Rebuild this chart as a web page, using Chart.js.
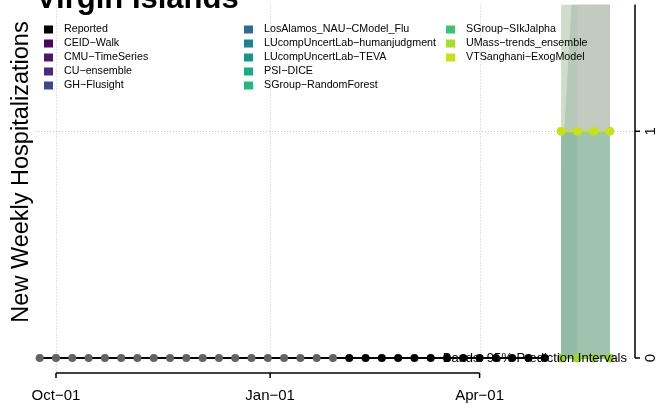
<!DOCTYPE html>
<html lang="en">
<head>
  <meta charset="UTF-8">
  <title>Virgin Islands</title>
  <script src="https://cdn.jsdelivr.net/npm/chart.js"></script>
  <style>
    html, body { margin: 0; padding: 0; background: #fff; }
    #wrap { width: 658px; height: 409px; }
  </style>
</head>
<body>
  <div id="wrap"><canvas id="chart" width="658" height="409"></canvas></div>
  <script>
    // reported weekly hospitalizations
    const reportedDates = [
      '2022-09-24', '2022-10-01', '2022-10-08', '2022-10-15', '2022-10-22', '2022-10-29',
      '2022-11-05', '2022-11-12', '2022-11-19', '2022-11-26', '2022-12-03', '2022-12-10',
      '2022-12-17', '2022-12-24', '2022-12-31', '2023-01-07', '2023-01-14', '2023-01-21',
      '2023-01-28', '2023-02-04', '2023-02-11', '2023-02-18', '2023-02-25', '2023-03-04',
      '2023-03-11', '2023-03-18', '2023-03-25', '2023-04-01', '2023-04-08', '2023-04-15',
      '2023-04-22', '2023-04-29'
    ];
    const reportedValues = [0, 0, 0, 0, 0, 0, 0, 0, 0, 0, 0, 0, 0, 0, 0, 0, 0, 0, 0,
                            0, 0, 0, 0, 0, 0, 0, 0, 0, 0, 0, 0, 0];
    const greyCount = 19; // earlier points shown in grey

    // forecasts
    const forecastDates = ['2023-05-06', '2023-05-13', '2023-05-20', '2023-05-27'];
    const umassMedian = [0, 0, 0, 0];
    const vtsMedian = [1, 1, 1, 1];

    // 95% prediction interval bands (upper ends run past the top of the plot)
    const bandWideLower = [0, 0, 0, 0];
    const bandWideUpper = [4, 4, 4, 4];
    const bandRiseLower = [0, 0, 0, 0];
    const bandRiseUpper = [0.76, 2.0, 4, 4];
    const bandLateLower = [null, 0, 0, 0];
    const bandLateUpper = [null, 4, 4, 4];
    const bandLowLower = [0, 0, 0, 0];
    const bandLowUpper = [1, 1, 1, 1];
    const bandLowLateLower = [null, 0, 0, 0];
    const bandLowLateUpper = [null, 1, 1, 1];

    const xTickDates = ['2022-10-01', '2023-01-01', '2023-04-01'];
    const xTickLabels = ['Oct\u221201', 'Jan\u221201', 'Apr\u221201'];
    const yTicks = [0, 1];

    const legendNames = [
      'Reported', 'CEID\u2212Walk', 'CMU\u2212TimeSeries', 'CU\u2212ensemble', 'GH\u2212Flusight',
      'LosAlamos_NAU\u2212CModel_Flu', 'LUcompUncertLab\u2212humanjudgment', 'LUcompUncertLab\u2212TEVA',
      'PSI\u2212DICE', 'SGroup\u2212RandomForest', 'SGroup\u2212SIkJalpha', 'UMass\u2212trends_ensemble',
      'VTSanghani\u2212ExogModel'
    ];
    const legendColors = [
      '#000000', '#46085c', '#481a6c', '#472c7a', '#3e4989',
      '#2f6c8e', '#277e8e', '#21908d', '#22a785', '#2eb37c',
      '#43bf71', '#a8db34', '#c8e020'
    ];

    const FONT = '"Liberation Sans", Arial, Helvetica, sans-serif';
    const day0 = Date.parse('2022-10-01');
    const dayOf = s => (Date.parse(s) - day0) / 86400000;
    const pts = (dates, vals) => dates.map((d, i) => ({ x: dayOf(d), y: vals[i] }));

    // higher order is drawn first
    function band(lower, upper, color, order) {
      return [
        { data: pts(forecastDates, lower), borderWidth: 0, pointRadius: 0, fill: false, order: order, spanGaps: false },
        { data: pts(forecastDates, upper), borderWidth: 0, pointRadius: 0, fill: '-1',
          backgroundColor: color, order: order, spanGaps: false }
      ];
    }

    const rAxes = {
      id: 'rAxes',
      beforeDatasetsDraw(chart) {
        const { ctx, chartArea: a, scales: { x, y } } = chart;
        ctx.save();
        ctx.strokeStyle = '#c8c8c8';
        ctx.lineWidth = 1;
        ctx.setLineDash([1, 2]);
        xTickDates.forEach(d => {
          const px = Math.round(x.getPixelForValue(dayOf(d))) + 0.5;
          ctx.beginPath(); ctx.moveTo(px, a.top); ctx.lineTo(px, a.bottom); ctx.stroke();
        });
        yTicks.forEach(v => {
          const py = Math.round(y.getPixelForValue(v)) + 0.5;
          ctx.beginPath(); ctx.moveTo(a.left, py); ctx.lineTo(a.right, py); ctx.stroke();
        });
        ctx.restore();
      },
      afterDraw(chart) {
        const { ctx, chartArea: a, scales: { x, y } } = chart;
        ctx.save();
        ctx.strokeStyle = '#000';
        ctx.fillStyle = '#000';
        ctx.lineWidth = 1.5;

        // bottom axis
        const x0 = x.getPixelForValue(dayOf(xTickDates[0]));
        const x1 = x.getPixelForValue(dayOf(xTickDates[xTickDates.length - 1]));
        const by = a.bottom;
        ctx.beginPath(); ctx.moveTo(x0, by); ctx.lineTo(x1, by); ctx.stroke();
        ctx.font = '15px ' + FONT;
        ctx.textAlign = 'center';
        ctx.textBaseline = 'middle';
        xTickDates.forEach((d, i) => {
          const px = x.getPixelForValue(dayOf(d));
          ctx.beginPath(); ctx.moveTo(px, by); ctx.lineTo(px, by + 5); ctx.stroke();
          ctx.fillText(xTickLabels[i], px, by + 23);
        });

        // right axis
        const rx = a.right - 1;
        ctx.beginPath(); ctx.moveTo(rx, a.top); ctx.lineTo(rx, y.getPixelForValue(0)); ctx.stroke();
        yTicks.forEach(v => {
          const py = y.getPixelForValue(v);
          ctx.beginPath(); ctx.moveTo(rx, py); ctx.lineTo(rx + 5, py); ctx.stroke();
          ctx.save();
          ctx.translate(rx + 16, py);
          ctx.rotate(-Math.PI / 2);
          ctx.font = '15px ' + FONT;
          ctx.textAlign = 'center';
          ctx.textBaseline = 'middle';
          ctx.fillText(String(v), 0, 0);
          ctx.restore();
        });

        // band note
        ctx.font = '13px ' + FONT;
        ctx.textAlign = 'right';
        ctx.textBaseline = 'middle';
        ctx.fillText('Bands: 95% Prediction Intervals', 627, y.getPixelForValue(0));

        // y title
        ctx.save();
        ctx.translate(27.5, 172);
        ctx.rotate(-Math.PI / 2);
        ctx.font = '23.5px ' + FONT;
        ctx.textAlign = 'center';
        ctx.textBaseline = 'alphabetic';
        ctx.fillText('New Weekly Hospitalizations', 0, 0);
        ctx.restore();

        // title
        ctx.font = 'bold 31px ' + FONT;
        ctx.textAlign = 'left';
        ctx.textBaseline = 'alphabetic';
        ctx.fillText('Virgin Islands', 36, 8);

        // legend, three columns of five
        ctx.font = '10.7px ' + FONT;
        ctx.textBaseline = 'middle';
        const colX = [44, 244, 446];
        legendNames.forEach((name, i) => {
          const cx = colX[Math.floor(i / 5)];
          const cy = 29.5 + (i % 5) * 14;
          ctx.fillStyle = legendColors[i];
          ctx.fillRect(cx, cy - 4, 9, 8);
          ctx.fillStyle = '#000';
          ctx.fillText(name, cx + 20, cy);
        });
        ctx.restore();
      }
    };

    const reportedColors = reportedDates.map((d, i) => i < greyCount ? '#636363' : '#000000');

    new Chart(document.getElementById('chart'), {
      type: 'line',
      data: {
        datasets: [
          ...band(bandWideLower, bandWideUpper, '#cfdcc9', 15),
          ...band(bandRiseLower, bandRiseUpper, '#b6c8b7', 14),
          ...band(bandLateLower, bandLateUpper, '#c3cbc0', 13),
          ...band(bandLowLower, bandLowUpper, '#93bba4', 12),
          ...band(bandLowLateLower, bandLowLateUpper, '#a0c3ad', 11),
          {
            label: 'Reported',
            data: pts(reportedDates, reportedValues),
            borderColor: '#000', borderWidth: 2,
            pointRadius: 4, pointBackgroundColor: reportedColors, pointBorderWidth: 0,
            fill: false, order: 3
          },
          {
            label: 'UMass-trends_ensemble',
            data: pts(forecastDates, umassMedian),
            borderColor: '#9fd43f', borderWidth: 2,
            pointRadius: 4.5, pointBackgroundColor: '#9fd43f', pointBorderWidth: 0,
            fill: false, order: 2
          },
          {
            label: 'VTSanghani-ExogModel',
            data: pts(forecastDates, vtsMedian),
            borderColor: '#c8e020', borderWidth: 2,
            pointRadius: 4.5, pointBackgroundColor: '#c8e020', pointBorderWidth: 0,
            fill: false, order: 1
          }
        ]
      },
      options: {
        responsive: false,
        animation: false,
        devicePixelRatio: 1,
        layout: { padding: { left: 35, top: 4, right: 22, bottom: 36 } },
        scales: {
          x: { type: 'linear', min: -9.02, max: 249.2, display: false },
          y: { min: -0.066, max: 1.559, display: false }
        },
        plugins: { legend: { display: false }, tooltip: { enabled: false } }
      },
      plugins: [rAxes]
    });
  </script>
</body>
</html>
